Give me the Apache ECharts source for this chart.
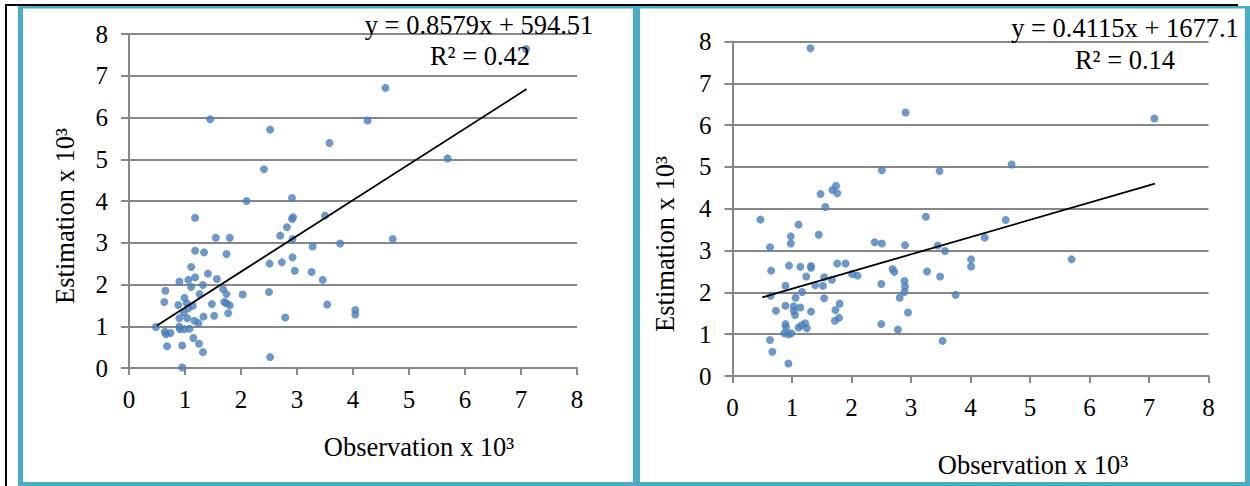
<!DOCTYPE html>
<html><head><meta charset="utf-8">
<script src="https://cdn.jsdelivr.net/npm/echarts@6/dist/echarts.min.js"></script>
<style>html,body{margin:0;padding:0;background:#fff}#c{width:1250px;height:486px}</style>
</head><body><div id="c"></div>
<script>
// ---- data (thousands) ----
const axisTicks = [0, 1, 2, 3, 4, 5, 6, 7, 8];

const leftObs = [2.10,1.18,1.55,1.80,1.18,1.34,1.74,1.11,1.41,1.18,1.06,0.90,1.57,1.11,1.32,0.65,1.68,1.74,1.26,2.03,0.99,0.63,1.70,1.74,1.80,1.48,0.88,1.03,1.14,1.06,0.98,1.77,1.52,1.33,0.90,1.04,1.17,1.24,0.48,0.90,0.91,0.99,1.08,0.64,0.66,0.74,1.15,1.25,0.68,0.95,1.32,0.95,
  4.26,2.52,3.58,2.41,2.91,2.91,2.93,3.50,2.82,2.70,2.92,4.71,3.77,3.28,2.51,2.73,2.92,2.96,3.26,3.46,2.50,3.54,4.04,4.04,2.79,2.52,
  4.58,5.69,7.09,1.45];
const leftEst = [4.00,3.60,3.12,3.12,2.81,2.77,2.73,2.42,2.26,2.17,2.11,2.07,2.13,1.94,1.99,1.85,1.89,1.77,1.77,1.76,1.68,1.58,1.58,1.55,1.50,1.53,1.51,1.55,1.49,1.43,1.33,1.31,1.25,1.23,1.19,1.19,1.13,1.07,0.98,0.99,0.93,0.93,0.94,0.87,0.81,0.84,0.72,0.58,0.52,0.54,0.38,0.01,
  5.93,5.71,5.39,4.76,4.07,3.57,3.61,3.65,3.37,3.17,3.09,3.09,2.98,2.91,2.50,2.53,2.65,2.33,2.30,2.11,1.82,1.52,1.39,1.28,1.21,0.26,
  6.71,5.02,7.64,5.96];

const rightObs = [1.74,1.68,1.76,1.48,1.56,0.47,1.11,1.45,0.98,0.98,0.63,2.39,2.51,0.95,0.65,1.14,1.32,1.32,1.76,1.90,1.24,1.54,2.01,2.10,2.50,0.89,1.39,1.52,1.67,1.17,0.64,1.06,1.54,0.89,1.03,1.14,1.03,1.05,0.73,1.32,1.80,1.73,1.79,1.72,0.89,0.90,0.87,0.94,0.99,1.11,1.22,1.16,1.25,2.50,0.63,0.67,0.94,
  2.51,3.48,4.69,3.25,4.59,4.24,2.90,3.45,3.57,4.01,4.01,2.69,2.72,3.27,3.49,2.89,2.90,2.89,2.81,3.75,2.95,2.78,3.53,
  1.31,2.91,7.09,5.70];
const rightEst = [4.55,4.45,4.37,4.35,4.04,3.74,3.62,3.38,3.34,3.17,3.08,3.20,3.17,2.64,2.52,2.61,2.63,2.59,2.69,2.69,2.38,2.36,2.44,2.40,2.20,2.16,2.17,2.16,2.30,2.01,1.92,1.87,1.86,1.68,1.67,1.64,1.56,1.46,1.56,1.54,1.73,1.58,1.39,1.32,1.24,1.16,1.02,1.00,1.02,1.16,1.26,1.21,1.14,1.24,0.86,0.58,0.30,
  4.92,4.90,5.06,3.81,3.73,3.31,3.13,3.12,2.99,2.79,2.62,2.56,2.49,2.50,2.38,2.27,2.14,2.01,1.87,1.94,1.52,1.11,0.84,
  7.84,6.30,6.16,2.79];

// trend line end points as drawn
const leftTrendX = [0.5, 7.1];
const leftTrendY = [1.02, 6.68];
const rightTrendX = [0.5, 7.1];
const rightTrendY = [1.88, 4.60];

const leftEquation = 'y = 0.8579x + 594.51';
const leftR2 = 'R² = 0.42';
const rightEquation = 'y = 0.4115x + 1677.1';
const rightR2 = 'R² = 0.14';
const xTitle = 'Observation x 10³';
const yTitle = 'Estimation x 10³';

// ---- chart ----
const zip = (a, b) => a.map((v, i) => [v, b[i]]);
const FONT = '"Liberation Serif", "Times New Roman", serif';
const GRID_C = '#878787';

function xAx(gi) {
  return {
    gridIndex: gi, type: 'value', min: axisTicks[0], max: axisTicks[axisTicks.length - 1], interval: 1,
    axisLine: { show: true, onZero: false, lineStyle: { color: GRID_C, width: 2 } },
    axisTick: { show: true, length: 7, lineStyle: { color: GRID_C, width: 2 } },
    splitLine: { show: false },
    axisLabel: { margin: 19, color: '#000', fontFamily: FONT, fontSize: 25 }
  };
}
function yAx(gi) {
  return {
    gridIndex: gi, type: 'value', min: axisTicks[0], max: axisTicks[axisTicks.length - 1], interval: 1,
    axisLine: { show: true, onZero: false, lineStyle: { color: GRID_C, width: 2 } },
    axisTick: { show: true, length: 8, lineStyle: { color: GRID_C, width: 2 } },
    splitLine: { show: true, lineStyle: { color: GRID_C, width: 2 } },
    axisLabel: { margin: 21, color: '#000', fontFamily: FONT, fontSize: 25 }
  };
}
function txt(text, x, y, size, rot) {
  return { type: 'text', x: x, y: y, rotation: rot || 0, z: 100,
    style: { text: text, fill: '#000', font: size + 'px ' + FONT, align: 'center', verticalAlign: 'middle' } };
}
const TEAL = '#4bacc6';
function rect(x, y, w, h, c) {
  return { type: 'rect', shape: { x: x, y: y, width: w, height: h }, style: { fill: c }, z: 50, silent: true };
}

const chart = echarts.init(document.getElementById('c'), null, { renderer: 'svg' });
chart.setOption({
  animation: false,
  backgroundColor: '#fff',
  grid: [
    { left: 129, top: 34, width: 448, height: 334 },
    { left: 732.5, top: 41.5, width: 476, height: 334.5 }
  ],
  xAxis: [xAx(0), xAx(1)],
  yAxis: [yAx(0), yAx(1)],
  series: [
    { type: 'scatter', xAxisIndex: 0, yAxisIndex: 0, data: zip(leftObs, leftEst), symbolSize: 8,
      itemStyle: { color: '#4a7ebb' }, z: 3 },
    { type: 'line', xAxisIndex: 0, yAxisIndex: 0, data: zip(leftTrendX, leftTrendY), symbol: 'none',
      lineStyle: { color: '#000', width: 1.8 }, z: 4 },
    { type: 'scatter', xAxisIndex: 1, yAxisIndex: 1, data: zip(rightObs, rightEst), symbolSize: 8,
      itemStyle: { color: '#4a7ebb' }, z: 3 },
    { type: 'line', xAxisIndex: 1, yAxisIndex: 1, data: zip(rightTrendX, rightTrendY), symbol: 'none',
      lineStyle: { color: '#000', width: 1.8 }, z: 4 }
  ],
  graphic: [
    rect(18, 6, 1232, 2.5, TEAL),
    rect(18, 6, 5, 480, TEAL),
    rect(633, 6, 7, 480, TEAL),
    rect(18, 482, 1232, 4, TEAL),
    rect(1245, 6, 5, 480, TEAL),
    rect(5, 4, 1233, 2, '#000'),
    rect(5, 4, 2, 482, '#000'),
    txt(leftEquation, 479, 25, 26.5),
    txt(leftR2, 480, 56, 26.5),
    txt(rightEquation, 1125, 28, 26.5),
    txt(rightR2, 1125, 60, 26.5),
    txt(xTitle, 419, 447, 26.5),
    txt(xTitle, 1033, 465, 26.5),
    txt(yTitle, 65, 216, 26.5, Math.PI / 2),
    txt(yTitle, 665, 244, 26.5, Math.PI / 2)
  ]
});
</script>
</body></html>
